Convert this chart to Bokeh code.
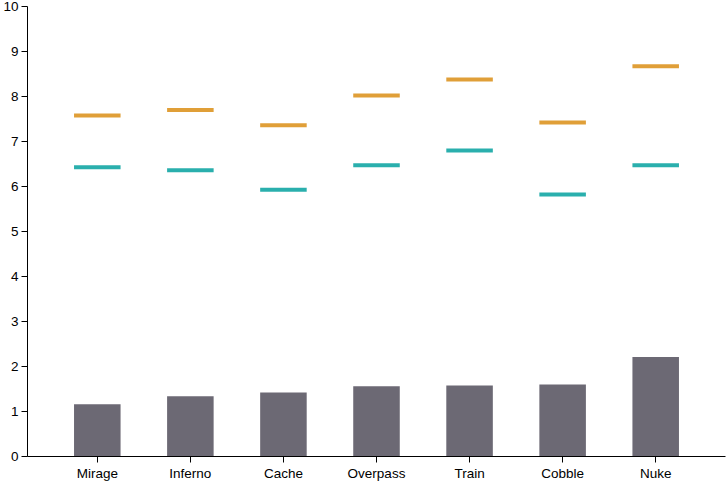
from bokeh.plotting import figure
from bokeh.models import FactorRange, ColumnDataSource, Range1d
from bokeh.embed import file_html
from bokeh.resources import INLINE

maps = ["Mirage", "Inferno", "Cache", "Overpass", "Train", "Cobble", "Nuke"]
bar_values = [1.16, 1.34, 1.42, 1.56, 1.58, 1.60, 2.21]
orange_values = [7.58, 7.70, 7.36, 8.02, 8.38, 7.42, 8.67]
teal_values = [6.43, 6.36, 5.93, 6.47, 6.80, 5.82, 6.47]

src = ColumnDataSource(dict(x=maps, bar=bar_values, orange=orange_values, teal=teal_values))

p = figure(
    frame_width=698, frame_height=450,
    x_range=FactorRange(factors=maps, range_padding=0.25, range_padding_units="absolute"),
    y_range=Range1d(0, 10),
    output_backend="svg", toolbar_location=None,
    min_border_left=25, min_border_right=1, min_border_top=6, min_border_bottom=24,
)
p.outline_line_color = None
p.background_fill_color = "white"
p.border_fill_color = "white"
p.xgrid.visible = False
p.ygrid.visible = False

p.vbar(x="x", top="bar", width=0.5, source=src, color="#6c6974", line_color=None)
p.rect(x="x", y="orange", width=0.5, height=4, height_units="screen",
       source=src, color="#e09f38", line_color=None)
p.rect(x="x", y="teal", width=0.5, height=4, height_units="screen",
       source=src, color="#2aafad", line_color=None)

for ax in (p.xaxis[0], p.yaxis[0]):
    ax.axis_line_color = "black"
    ax.major_tick_line_color = "black"
    ax.major_tick_out = 6
    ax.major_tick_in = 0
    ax.minor_tick_line_color = None
    ax.major_label_text_font = "Liberation Sans"
    ax.major_label_text_font_size = "13.5px"
    ax.major_label_text_color = "black"
    ax.major_label_standoff = 3

p.yaxis[0].ticker = list(range(0, 11))

open("out.html", "w").write(file_html(p, INLINE))
